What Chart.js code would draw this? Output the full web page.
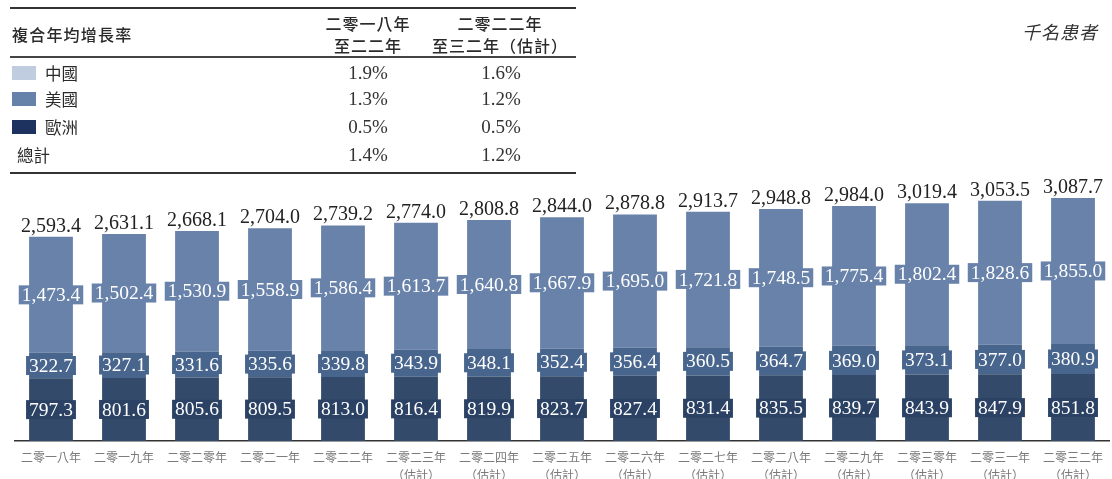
<!DOCTYPE html>
<html>
<head>
<meta charset="utf-8">
<script src="https://cdn.jsdelivr.net/npm/chart.js@4.4.1/dist/chart.umd.min.js"></script>
<style>
  html, body { margin: 0; padding: 0; background: #fff; }
  #wrap { position: relative; width: 1112px; height: 479px; overflow: hidden; }
  canvas { position: absolute; left: 0; top: 0; }
  .t { position: absolute; white-space: nowrap; color: #2a2a2a; }
  .cjk { font-family: "Noto Sans CJK TC", "Noto Sans CJK SC", sans-serif; }
  .num { font-family: "Liberation Serif", "Times New Roman", serif; font-size: 19px; color: #333; }
  .rule { position: absolute; left: 10px; width: 566px; background: #333; }
  .sw { position: absolute; left: 12px; width: 24px; height: 14px; }
</style>
</head>
<body>
<div id="wrap">
  <canvas id="c" width="1112" height="479"></canvas>
  <div class="rule" style="top:7px;height:2px;"></div>
  <div class="rule" style="top:56px;height:1.5px;background:#444;"></div>
  <div class="rule" style="top:172px;height:2px;"></div>
  <div class="t cjk" style="left:12px;top:22px;font-size:16px;letter-spacing:1.2px;font-weight:500;line-height:24px;">複合年均增長率</div>
  <div class="t cjk" style="left:308px;width:120px;top:12px;font-size:16px;letter-spacing:1px;text-align:center;line-height:22px;font-weight:500;">二零一八年<br>至二二年</div>
  <div class="t cjk" style="left:430px;width:140px;top:12px;font-size:16px;letter-spacing:1px;text-align:center;line-height:22px;font-weight:500;">二零二二年<br>至三二年（估計）</div>
  <div class="sw" style="top:66px;background:#c0cde0;"></div>
  <div class="sw" style="top:92px;background:#6682aa;"></div>
  <div class="sw" style="top:120px;background:#1e3260;"></div>
  <div class="t cjk" style="left:45px;top:62px;font-size:16.5px;line-height:22px;">中國</div>
  <div class="t cjk" style="left:45px;top:88px;font-size:16.5px;line-height:22px;">美國</div>
  <div class="t cjk" style="left:45px;top:116px;font-size:16.5px;line-height:22px;">歐洲</div>
  <div class="t cjk" style="left:17px;top:144px;font-size:16.5px;line-height:22px;">總計</div>
  <div id="cagr"></div>
  <div class="t cjk" style="left:1022px;top:18px;font-size:18px;font-style:italic;letter-spacing:1px;color:#333;line-height:26px;">千名患者</div>
</div>
<script>
// ---- data ----
const categories = [
  "二零一八年", "二零一九年", "二零二零年", "二零二一年", "二零二二年",
  ["二零二三年", "（估計）"], ["二零二四年", "（估計）"], ["二零二五年", "（估計）"],
  ["二零二六年", "（估計）"], ["二零二七年", "（估計）"], ["二零二八年", "（估計）"],
  ["二零二九年", "（估計）"], ["二零三零年", "（估計）"], ["二零三一年", "（估計）"],
  ["二零三二年", "（估計）"]
];
const europe = [797.3, 801.6, 805.6, 809.5, 813.0, 816.4, 819.9, 823.7, 827.4, 831.4, 835.5, 839.7, 843.9, 847.9, 851.8];
const usa = [322.7, 327.1, 331.6, 335.6, 339.8, 343.9, 348.1, 352.4, 356.4, 360.5, 364.7, 369.0, 373.1, 377.0, 380.9];
const china = [1473.4, 1502.4, 1530.9, 1558.9, 1586.4, 1613.7, 1640.8, 1667.9, 1695.0, 1721.8, 1748.5, 1775.4, 1802.4, 1828.6, 1855.0];
const totals = [2593.4, 2631.1, 2668.1, 2704.0, 2739.2, 2774.0, 2808.8, 2844.0, 2878.8, 2913.7, 2948.8, 2984.0, 3019.4, 3053.5, 3087.7];
const cagrRows = ["中國", "美國", "歐洲", "總計"];
const cagr1822 = ["1.9%", "1.3%", "0.5%", "1.4%"];
const cagr2232 = ["1.6%", "1.2%", "0.5%", "1.2%"];

// ---- table values ----
const rowTops = [62, 88, 116, 144];
const cg = document.getElementById('cagr');
cagrRows.forEach((r, i) => {
  [[cagr1822[i], 368], [cagr2232[i], 501]].forEach(([v, cx]) => {
    const d = document.createElement('div');
    d.className = 't num';
    d.style.left = (cx - 40) + 'px';
    d.style.width = '80px';
    d.style.textAlign = 'center';
    d.style.top = rowTops[i] + 'px';
    d.style.lineHeight = '22px';
    d.textContent = v;
    cg.appendChild(d);
  });
});

// ---- chart ----
const fmt = v => v.toLocaleString('en-US', { minimumFractionDigits: 1, maximumFractionDigits: 1 });
const boxColors = ['#2b4265', '#48658d', '#6882aa'];

const labelPlugin = {
  id: 'labels',
  afterDatasetsDraw(chart) {
    const ctx = chart.ctx;
    ctx.save();
    ctx.font = '19.5px "Liberation Serif", "Times New Roman", serif';
    ctx.textAlign = 'center';
    ctx.textBaseline = 'middle';
    chart.data.datasets.forEach((ds, di) => {
      const meta = chart.getDatasetMeta(di);
      meta.data.forEach((el, i) => {
        const txt = fmt(ds.data[i]);
        const cy = (el.y + el.base) / 2;
        const w = ctx.measureText(txt).width + 6;
        ctx.fillStyle = boxColors[di];
        ctx.fillRect(el.x - w / 2, cy - 9.5, w, 19);
        ctx.fillStyle = '#ffffff';
        ctx.fillText(txt, el.x, cy + 1);
      });
    });
    const top = chart.getDatasetMeta(chart.data.datasets.length - 1);
    ctx.font = '20px "Liberation Serif", "Times New Roman", serif';
    ctx.fillStyle = '#222';
    ctx.textBaseline = 'alphabetic';
    top.data.forEach((el, i) => {
      ctx.fillText(fmt(totals[i]), el.x, el.y - 5);
    });
    ctx.restore();
  }
};

new Chart(document.getElementById('c'), {
  type: 'bar',
  data: {
    labels: categories,
    datasets: [
      { label: '歐洲', data: europe, backgroundColor: '#334a6a' },
      { label: '美國', data: usa, backgroundColor: '#48658d' },
      { label: '中國', data: china, backgroundColor: '#6882aa' }
    ]
  },
  options: {
    responsive: false,
    devicePixelRatio: 1,
    animation: false,
    layout: { padding: { left: 14.5, right: 2.5, top: 165.5, bottom: 0 } },
    plugins: { legend: { display: false }, tooltip: { enabled: false } },
    datasets: { bar: { barPercentage: 0.6, categoryPercentage: 1.0 } },
    scales: {
      x: {
        stacked: true,
        grid: { display: false, drawTicks: false },
        border: { display: true, color: '#333', width: 1.5 },
        ticks: {
          autoSkip: false, maxRotation: 0, minRotation: 0, padding: 8,
          color: '#7a7a7a',
          font: { family: '"Noto Sans CJK TC", sans-serif', size: 12, lineHeight: 1.45 }
        },
        afterFit(scale) { scale.height = 38; }
      },
      y: { stacked: true, display: false, min: 0, max: 3500 }
    }
  },
  plugins: [labelPlugin]
});
</script>
</body>
</html>
